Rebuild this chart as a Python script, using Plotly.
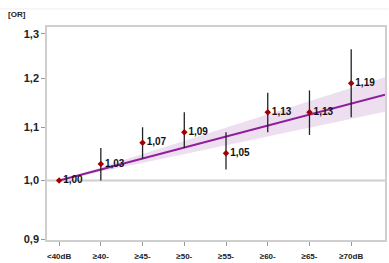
import plotly.graph_objects as go

categories = ["<40dB", "≥40-", "≥45-", "≥50-", "≥55-", "≥60-", "≥65-", "≥70dB"]
or_values = [1.00, 1.03, 1.07, 1.09, 1.05, 1.13, 1.13, 1.19]
ci_low = [1.00, 1.00, 1.04, 1.06, 1.02, 1.09, 1.085, 1.12]
ci_high = [1.00, 1.06, 1.10, 1.13, 1.09, 1.17, 1.175, 1.265]

# trend line (fit) and its confidence band, given at start and right edge
trend_x = [0, 7.81]
trend_y = [1.00, 1.166]
band_low = [1.00, 1.131]
band_high = [1.00, 1.203]

y_ticks = [0.9, 1.0, 1.1, 1.2, 1.3]

xs = list(range(len(categories)))
font_family = "Liberation Sans, Arial, sans-serif"

fig = go.Figure()

# confidence band
fig.add_trace(go.Scatter(
    x=trend_x + trend_x[::-1], y=band_high + band_low[::-1],
    fill="toself", fillcolor="rgba(190,140,200,0.28)",
    line=dict(width=0), mode="lines", hoverinfo="skip", showlegend=False))

# trend line
fig.add_trace(go.Scatter(
    x=trend_x, y=trend_y, mode="lines",
    line=dict(color="#8E1F9C", width=2), showlegend=False))

# points with CIs
fig.add_trace(go.Scatter(
    x=xs, y=or_values, mode="markers+text",
    marker=dict(symbol="diamond", size=5, color="#A00000"),
    error_y=dict(type="data", symmetric=False,
                 array=[h - v for h, v in zip(ci_high, or_values)],
                 arrayminus=[v - l for v, l in zip(or_values, ci_low)],
                 color="#222222", thickness=1.3, width=0),
    text=[f"{v:.2f}".replace(".", ",") for v in or_values],
    textposition="middle right",
    textfont=dict(family=font_family, size=10, color="#111111", weight="bold"),
    showlegend=False))

fig.update_layout(
    width=389, height=263,
    margin=dict(l=47, r=2, t=27, b=23),
    paper_bgcolor="white", plot_bgcolor="white",
    separators=",.",
    font=dict(family=font_family),
    xaxis=dict(
        tickmode="array", tickvals=xs, ticktext=categories,
        range=[-0.29, 7.81],
        showgrid=False, zeroline=False,
        showline=True, linecolor="#cfcfcf", linewidth=1.5, mirror=True,
        ticks="outside", ticklen=4, tickcolor="#999999", tickwidth=1,
        ticklabelstandoff=4,
        tickfont=dict(family=font_family, size=8, color="#222222", weight="bold"),
    ),
    yaxis=dict(
        type="log",
        tickmode="array", tickvals=y_ticks,
        ticktext=[f"{t:.1f}".replace(".", ",") for t in y_ticks],
        range=[-0.0462, 0.1193],
        showgrid=False, zeroline=False,
        showline=True, linecolor="#cfcfcf", linewidth=1.5, mirror=True,
        ticks="outside", ticklen=4, tickcolor="#999999", tickwidth=1,
        tickfont=dict(family=font_family, size=11, color="#222222", weight="bold"),
    ),
    annotations=[dict(
        text="[OR]", xref="paper", yref="paper", x=-0.12, y=1.06,
        xanchor="left", yanchor="middle", showarrow=False,
        font=dict(family=font_family, size=8, color="#222222", weight="bold"))],
    shapes=[
        dict(type="line", xref="paper", yref="y", x0=0, x1=1, y0=1.0, y1=1.0,
             line=dict(color="#cfcfcf", width=2), layer="below"),
        dict(type="line", xref="paper", yref="paper", x0=-0.14, x1=1.01,
             y0=1.085, y1=1.085, line=dict(color="#eeeeee", width=1)),
    ],
)

fig.write_html("out.html", config={"displayModeBar": False},
               post_script="document.body.style.margin='0';document.body.style.overflow='hidden';")
